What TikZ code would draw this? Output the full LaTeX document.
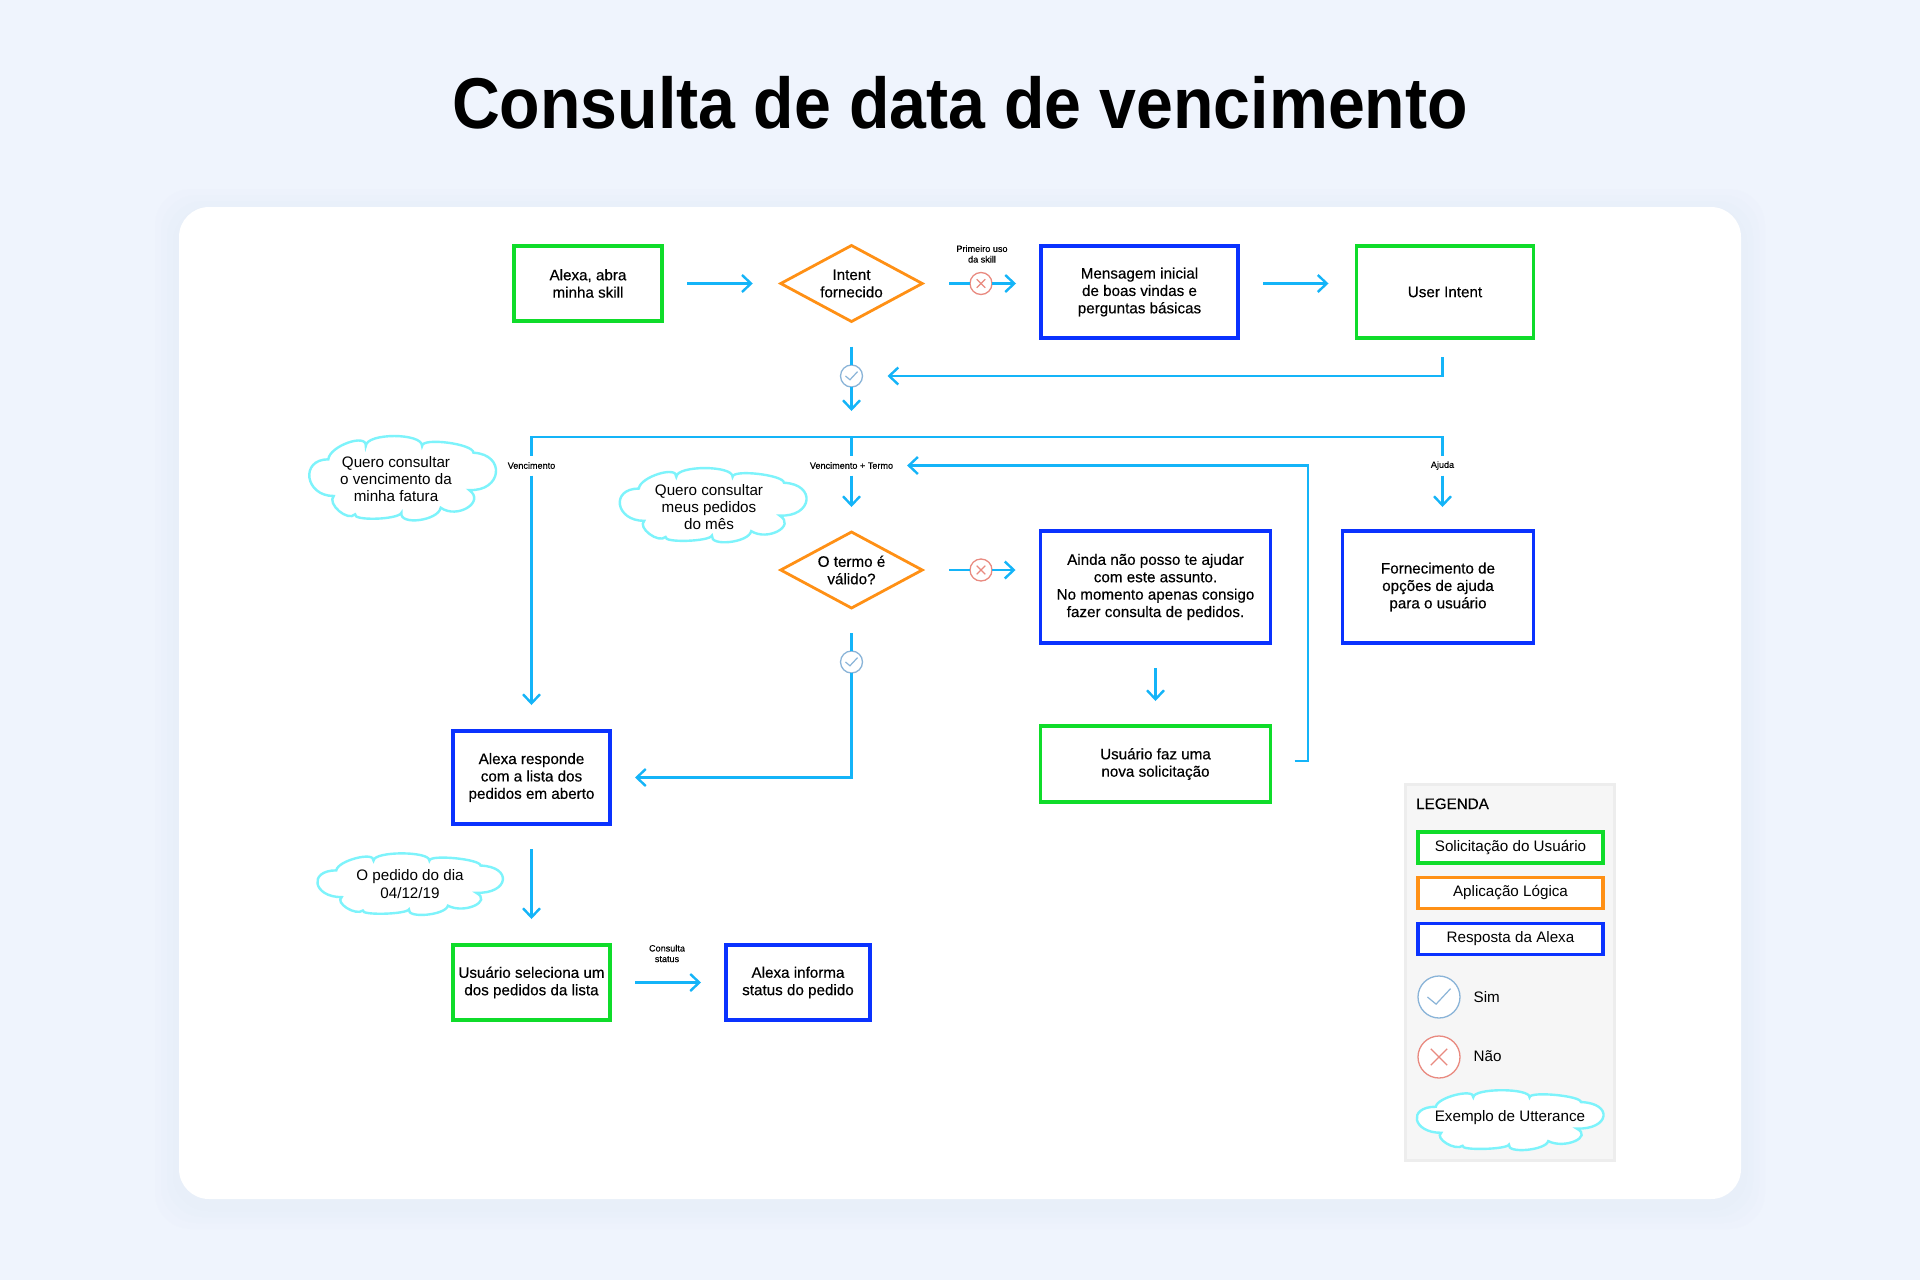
\documentclass[tikz,border=0pt]{standalone}
\usepackage{fontspec}
\setmainfont{Liberation Sans}
\newfontfamily\caixafont[FakeBold=0.35]{Liberation Sans}
\usetikzlibrary{arrows.meta,shapes.geometric}

\definecolor{fundo}{HTML}{EFF4FD}
\definecolor{sombra}{HTML}{DCE4F4}
\definecolor{verde}{HTML}{0FDC2A}
\definecolor{laranja}{HTML}{FF9015}
\definecolor{azul}{HTML}{0A32FF}
\definecolor{ciano}{HTML}{14B4F8}
\definecolor{nuvem}{HTML}{7DF3FB}
\definecolor{iconesim}{HTML}{8AB4D8}
\definecolor{iconenao}{HTML}{E98A80}

\tikzset{
  caixa/.style={rectangle, draw, line width=3.4pt, fill=white, inner sep=0pt, outer sep=0pt, align=center,
    font=\caixafont\fontsize{15.2}{17.4}\selectfont},
  usuario/.style={caixa, draw=verde},
  resposta/.style={caixa, draw=azul},
  logica/.style={caixa, diamond, aspect=1.86, draw=laranja, line width=2.8pt, minimum width=141.5pt, minimum height=76pt},
  rotulo/.style={inner sep=0pt, outer sep=0pt, align=center, font=\caixafont\fontsize{9.1}{10.6}\selectfont},
  frase/.style={inner sep=0pt, align=center, font=\fontsize{15.2}{17.4}\selectfont},
  legbox/.style={rectangle, draw, line width=3.4pt, fill=white, inner sep=0pt, minimum width=185pt, minimum height=31pt,
    font=\fontsize{15.2}{17.4}\selectfont},
  sim/.style={circle, draw=iconesim, line width=1.3pt, fill=white, inner sep=0pt, outer sep=0pt, minimum size=#1,
    path picture={\draw[iconesim, line width=1.2pt] (path picture bounding box.center) ++(-0.275*#1,0) -- ++(0.205*#1,0.17*#1) -- ++(0.345*#1,-0.37*#1);}},
  nao/.style={circle, draw=iconenao, line width=1.3pt, fill=white, inner sep=0pt, outer sep=0pt, minimum size=#1,
    path picture={\draw[iconenao, line width=1.2pt] (path picture bounding box.center) ++(-0.195*#1,-0.195*#1) -- ++(0.39*#1,0.39*#1) ++(-0.39*#1,0) -- ++(0.39*#1,-0.39*#1);}},
  linha/.style={ciano, line width=2.4pt},
  seta/.style={linha, -{Straight Barb[length=9pt,width=17pt]}},
  folga/.style={shorten <=25pt, shorten >=25pt},
}

% contorno da nuvem, medido a partir do centro
\newcommand{\nuvemtraco}{(-69.3,-18.7) .. controls (-68.2,-32) and (-33.2,-45.3) .. (-34.3,-32)
  .. controls (-33.9,-45.3) and (18.7,-45.3) .. (18.3,-32)
  .. controls (18.3,-40.9) and (66.3,-34.2) .. (66.3,-25.3)
  .. controls (97,-23.5) and (93,13.8) .. (62.3,12)
  .. controls (77.9,23.8) and (51.3,41.5) .. (35.7,29.7)
  .. controls (33.5,42.8) and (-3.2,47.8) .. (-1,34.7)
  .. controls (-3.2,41.6) and (-46.5,43.2) .. (-44.3,36.3)
  .. controls (-51,44.1) and (-71,25.8) .. (-64.3,18)
  .. controls (-91.2,18.1) and (-96.2,-18.6) .. cycle}
\newcommand{\utterance}[4]{%
  \draw[nuvem, line width=2.4pt, fill=white, shift={(#1,#2)}, xscale=#3, yscale=#4] \nuvemtraco;
}

\begin{document}
\begin{tikzpicture}[x=1pt,y=-1pt]
  \useasboundingbox (0,0) rectangle (1920,1280);
  \fill[fundo] (0,0) rectangle (1920,1280);

  % cartao branco
  \foreach \s in {24,18,12,6}
    \fill[sombra, opacity=0.07, rounded corners=36pt] (179-\s,207-\s+6) rectangle (1741+\s,1199+\s+6);
  \fill[white, rounded corners=30pt] (179,207) rectangle (1741,1199);

  \node[font=\bfseries\fontsize{72}{80}\selectfont, anchor=base, xscale=0.92, transform shape, inner sep=0pt] (titulo) at (960,128) {Consulta de data de vencimento};

  % fluxo
  \node[usuario, minimum width=148pt, minimum height=75pt] (abra) at (588,283.5) {Alexa, abra\\minha skill};
  \node[logica] (intent) at (851.5,283.5) {Intent\\fornecido};
  \node[resposta, minimum width=197pt, minimum height=92pt] (inicial) at (1139.5,292) {Mensagem inicial\\de boas vindas e\\perguntas básicas};
  \node[usuario, minimum width=177pt, minimum height=92pt] (userintent) at (1445,292) {User Intent};
  \node[nao=22] (nao1) at (981,283.5) {};
  \node[sim=22] (sim1) at (851.5,376) {};
  \node[rotulo] (primeiro) at (982,254) {Primeiro uso\\da skill};
  \coordinate (bus) at (851.5,437);

  \node[rotulo, minimum height=20pt] (venc) at (531.5,465.5) {Vencimento};
  \node[rotulo, minimum height=20pt] (venctermo) at (851.5,465.5) {Vencimento + Termo};
  \node[rotulo, minimum height=20pt] (ajuda) at (1442.5,465.5) {Ajuda};

  \node[logica] (termo) at (851.5,570) {O termo é\\válido?};
  \node[resposta, minimum width=230pt, minimum height=112pt] (naoposso) at (1155.5,587) {Ainda não posso te ajudar\\com este assunto.\\No momento apenas consigo\\fazer consulta de pedidos.};
  \node[resposta, minimum width=191pt, minimum height=112pt] (opcoes) at (1438,587) {Fornecimento de\\opções de ajuda\\para o usuário};
  \node[nao=22] (nao2) at (981,570) {};
  \node[sim=22] (sim2) at (851.5,662) {};
  \node[usuario, minimum width=230pt, minimum height=76pt] (nova) at (1155.5,764) {Usuário faz uma\\nova solicitação};
  \node[resposta, minimum width=157pt, minimum height=93pt] (lista) at (531.5,777.5) {Alexa responde\\com a lista dos\\pedidos em aberto};
  \node[usuario, minimum width=157pt, minimum height=75pt] (seleciona) at (531.5,982.5) {Usuário seleciona um\\dos pedidos da lista};
  \node[resposta, minimum width=144pt, minimum height=75pt] (status) at (798,982.5) {Alexa informa\\status do pedido};
  \node[rotulo] (consulta) at (667,953.5) {Consulta\\status};

  \draw[seta, shorten <=25pt, shorten >=28pt] (abra) -- (intent);
  \draw[linha, shorten <=27pt] (intent) -- (nao1);
  \draw[seta, shorten >=25pt] (nao1) -- (inicial.west |- nao1);
  \draw[seta, shorten <=25pt, shorten >=28pt] (inicial.east |- nao1) -- (userintent.west |- nao1);
  \draw[linha, shorten <=25pt] (intent) -- (sim1);
  \draw[seta, shorten >=26pt] (sim1) -- (bus);
  \draw[seta, shorten <=19pt, shorten >=25pt] (ajuda |- userintent.south) |- (sim1);

  \draw[linha] (bus) -| (venc);
  \draw[linha] (bus) -- (venctermo);
  \draw[linha] (bus) -| (ajuda);
  \draw[seta, shorten >=26pt] (venc) -- (lista);
  \draw[seta, shorten >=25pt] (venctermo) -- (termo);
  \draw[seta, shorten >=24pt] (ajuda) -- (ajuda |- opcoes.north);

  \draw[linha, shorten <=27pt] (termo) -- (nao2);
  \draw[seta, shorten >=25pt] (nao2) -- (naoposso.west |- nao2);
  \draw[linha, shorten <=25pt] (termo) -- (sim2);
  \draw[seta, shorten >=25pt] (sim2) |- (lista);
  \draw[seta, folga] (naoposso) -- (nova);

  \coordinate (volta) at (1308,761);
  \draw[seta, shorten <=24pt, shorten >=14pt] (nova.east |- volta) -- (volta) |- (venctermo);

  \draw[seta, shorten <=25pt, shorten >=26pt] (lista) -- (seleciona);
  \draw[seta, folga] (seleciona) -- (status);

  % nuvens
  \utterance{402.5}{478}{1.07}{1}
  \node[frase] (quero1) at (396,479) {Quero consultar\\o vencimento da\\minha fatura};
  \utterance{713}{505}{1.07}{0.88}
  \node[frase] (quero2) at (709,507) {Quero consultar\\meus pedidos\\do mês};
  \utterance{410}{884}{1.063}{0.73}
  \node[frase] (pedido) at (410,884) {O pedido do dia\\04/12/19};

  % legenda
  \draw[draw=black!7, fill=black!3.5, line width=3pt] (1405.5,784.5) rectangle (1614.5,1160.5);
  \node[font=\caixafont\fontsize{15.2}{17}\selectfont, anchor=base west, inner sep=0pt] (legenda) at (1416,809) {LEGENDA};
  \node[legbox, draw=verde] (leg1) at (1510.5,847.5) {Solicitação do Usuário};
  \node[legbox, draw=laranja] (leg2) at (1510.5,893) {Aplicação Lógica};
  \node[legbox, draw=azul] (leg3) at (1510.5,939) {Resposta da Alexa};
  \node[sim=42] (legsim) at (1439,997) {};
  \node[nao=42] (legnao) at (1439,1057) {};
  \node[frase, anchor=west] (textosim) at (1473.5,997) {Sim};
  \node[frase, anchor=west] (textonao) at (1473.5,1056) {Não};
  \utterance{1510}{1120}{1.07}{0.71}
  \node[frase] (exemplo) at (1510,1118) {Exemplo de Utterance};
\end{tikzpicture}
\end{document}
